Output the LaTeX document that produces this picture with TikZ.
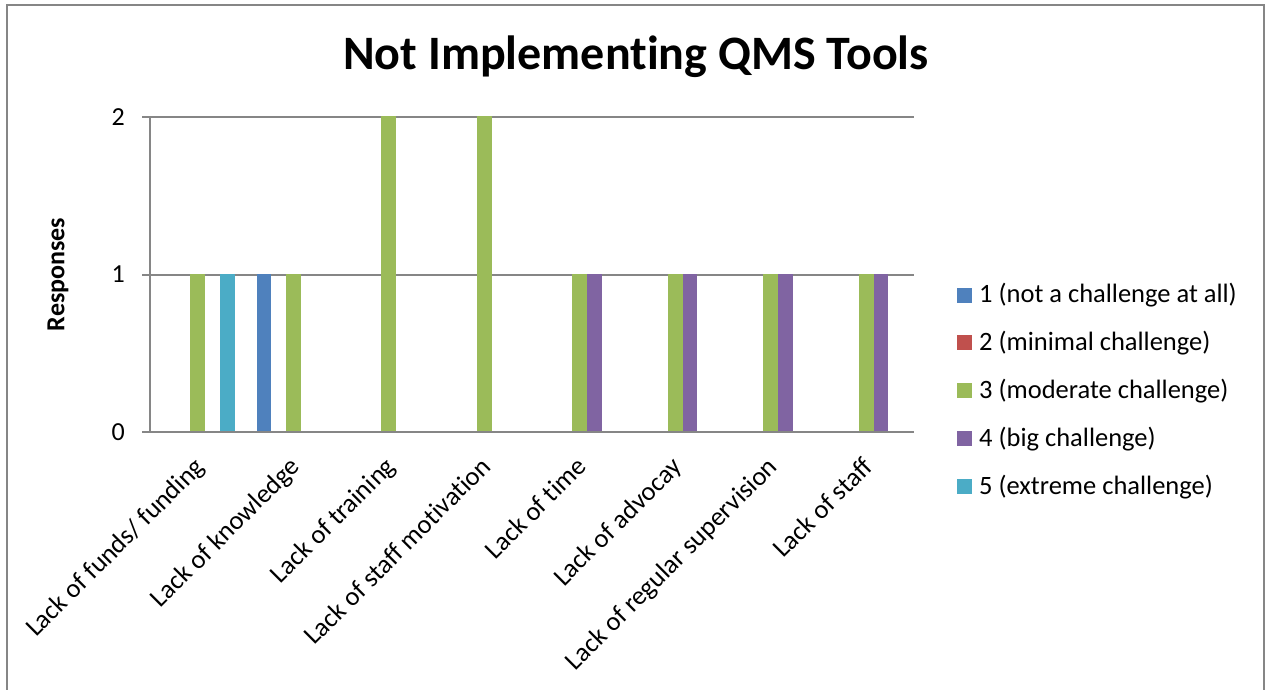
\documentclass[tikz,border=0pt]{standalone}
\usepackage{fontspec}
\setmainfont{Carlito}[Ligatures=NoCommon]
\definecolor{sone}{HTML}{4F81BD}
\definecolor{stwo}{HTML}{C0504D}
\definecolor{sthree}{HTML}{9BBB59}
\definecolor{sfour}{HTML}{8064A2}
\definecolor{sfive}{HTML}{4BACC6}
\definecolor{axgray}{HTML}{868686}
\begin{document}
\begin{tikzpicture}[x=1pt,y=-1pt,
  gridline/.style={draw=axgray, line width=2pt},
  framestyle/.style={draw=axgray, line width=2pt},
  catlabel/.style={font=\fontsize{26.5}{30}\selectfont, rotate=45, anchor=north east, inner sep=0pt},
  ticklabel/.style={font=\fontsize{26}{30}\selectfont, anchor=east, inner sep=0pt},
  legtext/.style={font=\fontsize{26.5}{30}\selectfont, anchor=west, inner sep=0pt},
  legbox/.style={draw=none, fill=#1, minimum size=15pt, inner sep=0pt}]
\useasboundingbox (0,0) rectangle (1266,689);
\fill[white] (0,0) rectangle (1266,689);
% frame
\draw[framestyle] (7,690) -- (7,5) -- (1264,5) -- (1264,690);
% title
\node[font=\fontsize{48}{54}\selectfont\bfseries] (title) at (636,57) {Not Implementing QMS Tools};
% axis title
\node[font=\fontsize{26}{30}\selectfont\bfseries, rotate=90] (ytitle) at (58,274.5) {Responses};
% gridlines and axes
\coordinate (g0l) at (142,432); \coordinate (g0r) at (914,432);
\coordinate (g1l) at (142,274.5); \coordinate (g1r) at (914,274.5);
\coordinate (g2l) at (142,117); \coordinate (g2r) at (914,117);
\coordinate (axtop) at (150,117); \coordinate (axbot) at (150,432);
\draw[gridline] (g2l) -- (g2r);
\draw[gridline] (g1l) -- (g1r);
\draw[gridline] (g0l) -- (g0r);
\draw[gridline] (axtop) -- (axbot);
\node[ticklabel] (t0) at (125,432) {0};
\node[ticklabel] (t1) at (125,274.5) {1};
\node[ticklabel] (t2) at (125,117) {2};
% bars: category/series/value/color
\foreach \c/\s/\v/\col in {0/3/1/sthree,0/5/1/sfive,1/1/1/sone,1/3/1/sthree,2/3/2/sthree,3/3/2/sthree,
  4/3/1/sthree,4/4/1/sfour,5/3/1/sthree,5/4/1/sfour,6/3/1/sthree,6/4/1/sfour,7/3/1/sthree,7/4/1/sfour}{
  \pgfmathsetmacro{\xl}{150+95.5*(\c+0.5)+(\s-3)*14.7-7.35}
  \pgfmathsetmacro{\yt}{431-157.5*\v}
  \fill[\col] (\xl,431) rectangle ++(14.7,\yt-431);
}
% category labels
\foreach \c/\t in {0/{Lack of funds/ funding},1/{Lack of knowledge},2/{Lack of training},3/{Lack of staff motivation},
  4/{Lack of time},5/{Lack of advocay},6/{Lack of regular supervision},7/{Lack of staff}}{
  \pgfmathsetmacro{\cx}{150+95.5*(\c+0.5)}
  \node[catlabel] (cat\c) at (\cx-5,455) {\t};
}
% legend
\foreach \k/\col/\t in {0/sone/{1 (not a challenge at all)},1/stwo/{2 (minimal challenge)},2/sthree/{3 (moderate challenge)},3/sfour/{4 (big challenge)},4/sfive/{5 (extreme challenge)}}{
  \pgfmathsetmacro{\ly}{295+47.9*\k}
  \node[legbox=\col] (lb\k) at (964.5,\ly) {};
  \node[legtext] (lt\k) at (979,\ly) {\t};
}
\end{tikzpicture}
\end{document}
